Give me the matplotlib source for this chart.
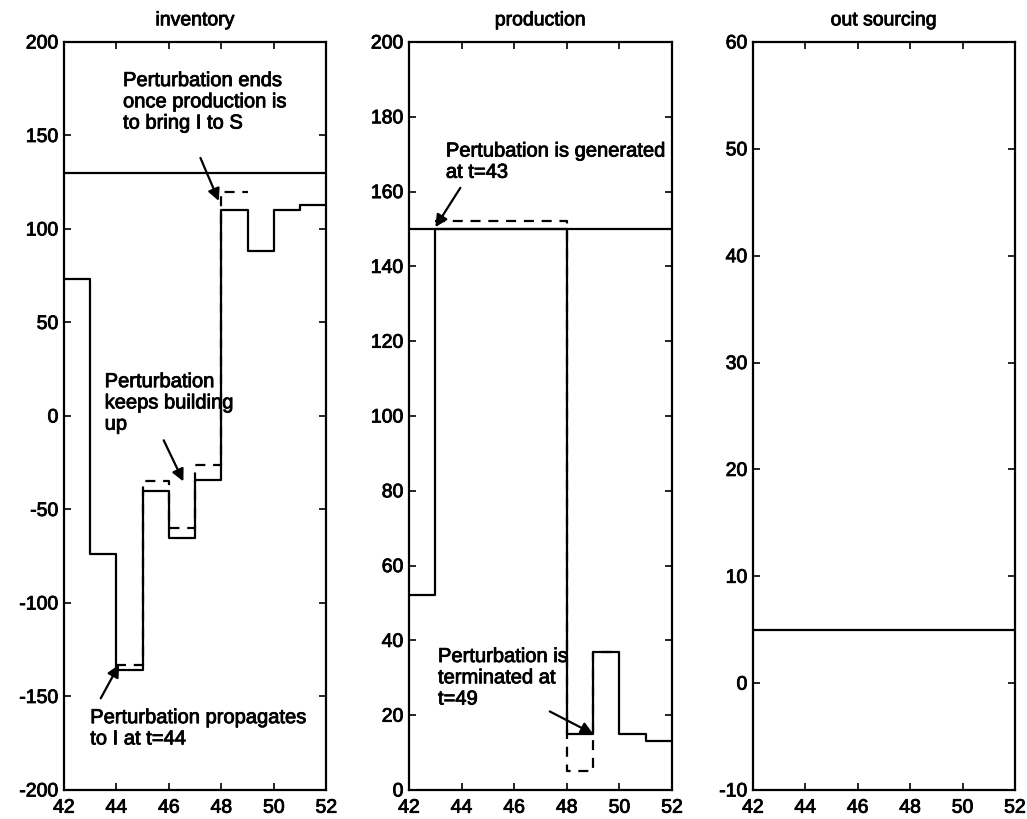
import matplotlib
matplotlib.use('Agg')
import matplotlib.pyplot as plt
import matplotlib.patheffects as pe

plt.rcParams['font.family'] = ['Liberation Sans', 'DejaVu Sans']
plt.rcParams['axes.unicode_minus'] = False

# time axis (periods 42..52, last value repeated for step drawing)
t = [42, 43, 44, 45, 46, 47, 48, 49, 50, 51, 52]

# inventory
inv_actual = [73, -74, -136, -40, -65, -34, 110, 88, 110, 113, 113]
inv_pert_t = [44, 45, 46, 47, 48, 49]
inv_pert = [-133, -35, -60, -26, 120, 120]
safety_stock = 130

# production
prod_actual = [52, 150, 150, 150, 150, 150, 15, 37, 15, 13, 13]
prod_pert_t = [43, 44, 45, 46, 47, 48, 49, 50]
prod_pert = [152, 152, 152, 152, 152, 5, 37, 37]
capacity = 150

# out sourcing
outs = [5, 5, 5, 5, 5, 5, 5, 5, 5, 5, 5]

fig = plt.figure(figsize=(10.27, 8.2), dpi=100)
ax1 = fig.add_axes([0.0623, 0.0354, 0.2555, 0.9122])
ax2 = fig.add_axes([0.3983, 0.0354, 0.2561, 0.9122])
ax3 = fig.add_axes([0.7332, 0.0354, 0.2551, 0.9122])

lw = 1.6
dash = (0, (4.5, 3.5))
heavy = [pe.withStroke(linewidth=0.6, foreground='k')]

# inventory panel
ax1.step(t, inv_actual, where='post', color='k', lw=lw)
ax1.step(inv_pert_t, inv_pert, where='post', color='k', lw=lw, linestyle=dash)
ax1.axhline(safety_stock, color='k', lw=lw)
ax1.set_ylim(-200, 200)
ax1.set_yticks(range(-200, 201, 50))
ax1.set_title('inventory', fontsize=14, pad=12, path_effects=heavy)

# production panel
ax2.step(t, prod_actual, where='post', color='k', lw=lw)
ax2.step(prod_pert_t, prod_pert, where='post', color='k', lw=lw, linestyle=dash)
ax2.axhline(capacity, color='k', lw=lw)
ax2.set_ylim(0, 200)
ax2.set_yticks(range(0, 201, 20))
ax2.set_title('production', fontsize=14, pad=12, path_effects=heavy)

# out sourcing panel
ax3.step(t, outs, where='post', color='k', lw=lw)
ax3.set_ylim(-10, 60)
ax3.set_yticks(range(-10, 61, 10))
ax3.set_title('out sourcing', fontsize=14, pad=12, path_effects=heavy)

for ax in (ax1, ax2, ax3):
    ax.set_xlim(42, 52)
    ax.set_xticks(range(42, 53, 2))
    ax.tick_params(direction='in', top=True, right=True, length=5,
                   labelsize=14, width=1.2)
    ax.tick_params(axis='x', pad=7)
    ax.tick_params(axis='y', pad=4)
    for lab in ax.get_xticklabels() + ax.get_yticklabels():
        lab.set_path_effects(heavy)
    for s in ax.spines.values():
        s.set_linewidth(1.6)

arrow = dict(arrowstyle='-|>', color='k', lw=1.6, mutation_scale=18,
             shrinkA=0, shrinkB=0)
txt = dict(fontsize=14.5, va='center', ha='left', linespacing=1.15,
           path_effects=heavy)

ax1.annotate('Perturbation ends\nonce production is\nto bring I to S',
             xy=(47.9, 115), xytext=(44.25, 168), **txt)
ax1.annotate('', xy=(47.9, 115), xytext=(47.2, 138), arrowprops=arrow)
ax1.annotate('Perturbation\nkeeps building\nup',
             xy=(46.5, -35), xytext=(43.55, 7), **txt)
ax1.annotate('', xy=(46.55, -35), xytext=(45.8, -13), arrowprops=arrow)
ax1.annotate('Perturbation propagates\nto I at t=44',
             xy=(44.1, -133), xytext=(43.0, -167), **txt)
ax1.annotate('', xy=(44.1, -133), xytext=(43.4, -151), arrowprops=arrow)

ax2.annotate('Pertubation is generated\nat t=43',
             xy=(43.0, 150), xytext=(43.4, 168), **txt)
ax2.annotate('', xy=(43.0, 150.5), xytext=(43.95, 161), arrowprops=arrow)
ax2.annotate('Perturbation is\nterminated at\nt=49',
             xy=(49, 15), xytext=(43.1, 30), **txt)
ax2.annotate('', xy=(49.0, 15), xytext=(47.35, 21), arrowprops=arrow)

fig.savefig('out.png', dpi=100)
